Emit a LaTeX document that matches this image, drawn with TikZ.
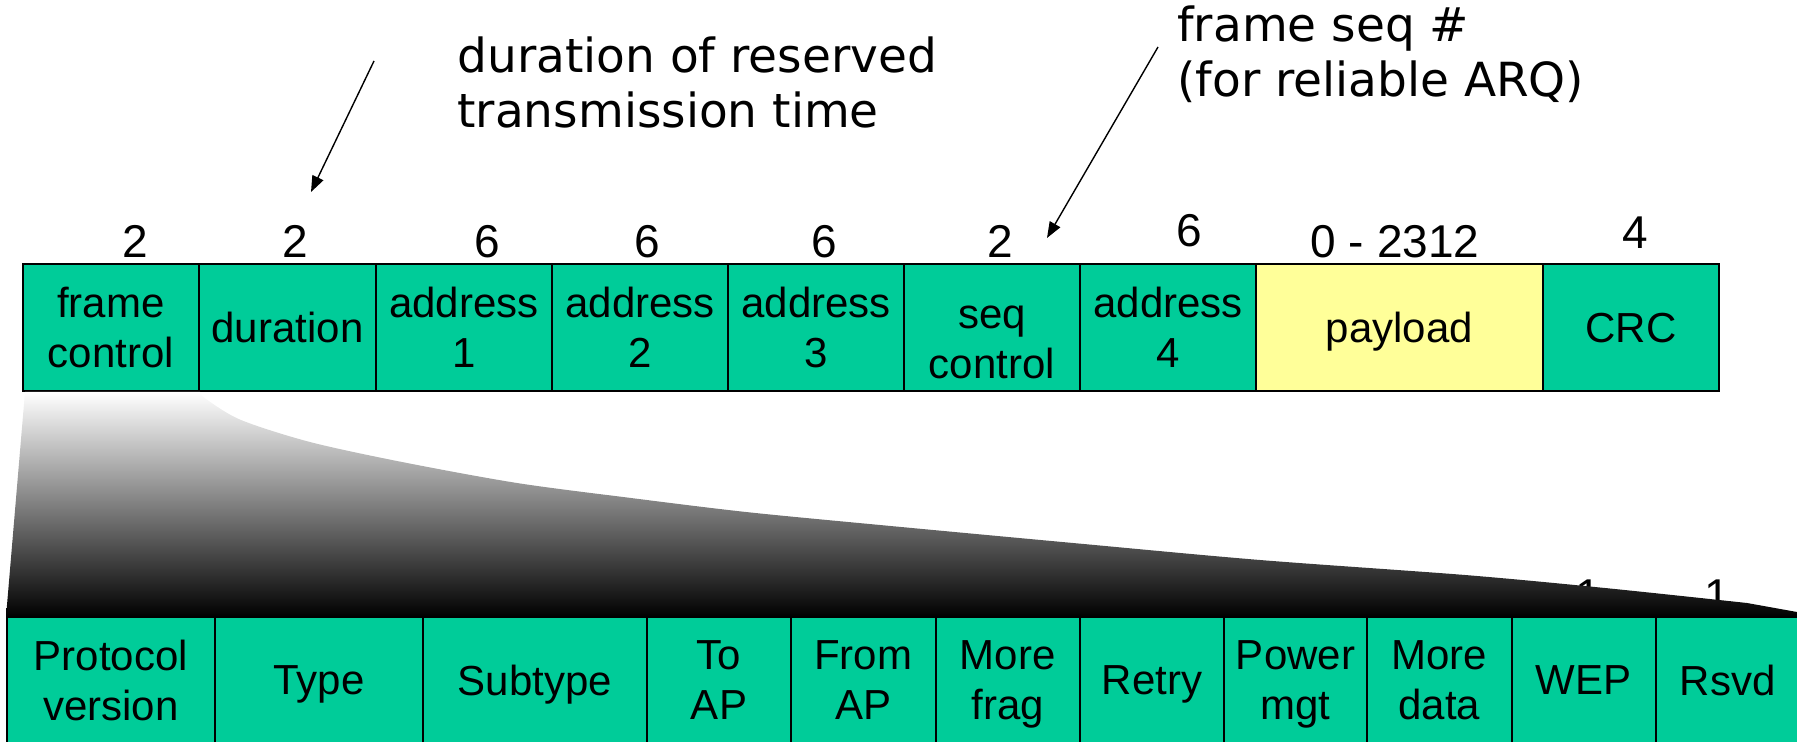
\documentclass[tikz,border=0pt]{standalone}
\usepackage{fontspec}
\setmainfont{Liberation Sans}
\newfontfamily\dv{DejaVu Sans}
\usetikzlibrary{arrows.meta}
\definecolor{fgreen}{RGB}{0,204,153}
\definecolor{fyellow}{RGB}{255,255,153}
\begin{document}
\begin{tikzpicture}[x=0.5pt,y=-0.5pt,
  fld/.style={draw=black, line width=1pt, fill=fgreen, inner sep=0pt, align=center,
    minimum height=63.5pt, font=\fontsize{21}{25}\selectfont},
  one/.style={text depth=0pt},
  num/.style={font=\fontsize{23}{27}\selectfont, anchor=base, inner sep=0pt},
  note/.style={font=\dv\fontsize{23.5}{27.5}\selectfont, align=left, anchor=base west, inner sep=0pt},
  ptr/.style={-{Triangle[length=8pt,width=6pt]}, line width=0.7pt}]
\useasboundingbox (0,0) rectangle (1797,742);
\clip (0,0) rectangle (1797,742);

% annotations
\node[note] (n1) at (457,128) {duration of reserved\\transmission time};
\node[note] (n2) at (1177,97) {frame seq \#\\(for reliable ARQ)};
\coordinate (a1s) at (374,61);
\coordinate (a1e) at (311,192);
\coordinate (a2s) at (1158,47);
\coordinate (a2e) at (1047,238);
\draw[ptr] (a1s) -- (a1e);
\draw[ptr] (a2s) -- (a2e);

% byte counts
\node[num] (c1) at (135,258) {2};
\node[num] (c2) at (295,258) {2};
\node[num] (c3) at (487,258) {6};
\node[num] (c4) at (647.5,258) {6};
\node[num] (c5) at (824,258) {6};
\node[num] (c6) at (1000,258) {2};
\node[num] (c7) at (1189,247) {6};
\node[num] (c8) at (1395,258) {0 - 2312};
\node[num] (c9) at (1635,249) {4};

% top frame
\node[fld, minimum width=88pt] (fc) at (111,327.5) {frame\\control};
\node[fld, one, minimum width=88.5pt] (du) at (287.5,327.5) {duration};
\node[fld, minimum width=88pt] (ad1) at (464,327.5) {address\\1};
\node[fld, minimum width=88pt] (ad2) at (640,327.5) {address\\2};
\node[fld, minimum width=88pt] (ad3) at (816,327.5) {address\\3};
\node[fld, minimum width=88pt] (sc) at (992,327.5) {\rule{0pt}{26pt}seq\\control};
\node[fld, minimum width=88pt] (ad4) at (1168,327.5) {address\\4};
\node[fld, one, fill=fyellow, minimum width=143.5pt] (pl) at (1399.5,327.5) {payload};
\node[fld, one, minimum width=88pt] (crc) at (1631,327.5) {CRC};

% partly hidden counts
\node[num] (b1) at (1588,611) {1};
\node[num] (b2) at (1717,611) {1};

% expansion wedge
\shade[top color=white, bottom color=black]
  (25,392) -- (200,392) -- plot[smooth, tension=0.5] coordinates {(200,392) (206,399) (241,420) (310,442) (402,462) (517,483) (631,498) (746,512) (880,525) (1073,543) (1260,560) (1465,575) (1605,588) (1747,603)}
  -- (1797,612) -- (1797,617) -- (6,617) -- cycle;

% frame control fields
\node[fld, minimum width=104pt] (pv) at (111,680.5) {Protocol\\version};
\node[fld, one, minimum width=104pt] (ty) at (319,680.5) {Type};
\node[fld, one, minimum width=112pt] (st) at (535,680.5) {Subtype};
\node[fld, minimum width=72pt] (ta) at (719,680.5) {To\\AP};
\node[fld, minimum width=72.25pt] (fa) at (863.25,680.5) {From\\AP};
\node[fld, minimum width=72.25pt] (mf) at (1007.75,680.5) {More\\\smash{frag}};
\node[fld, one, minimum width=72pt] (re) at (1152,680.5) {Retry};
\node[fld, minimum width=71.5pt] (pm) at (1295.5,680.5) {Power\\\smash{mgt}};
\node[fld, minimum width=72.3pt] (md) at (1439.3,680.5) {More\\data};
\node[fld, one, minimum width=72pt] (wep) at (1583.5,680.5) {WEP};
\node[fld, one, minimum width=72.25pt] (rs) at (1727.75,680.5) {Rsvd};
\end{tikzpicture}
\end{document}
